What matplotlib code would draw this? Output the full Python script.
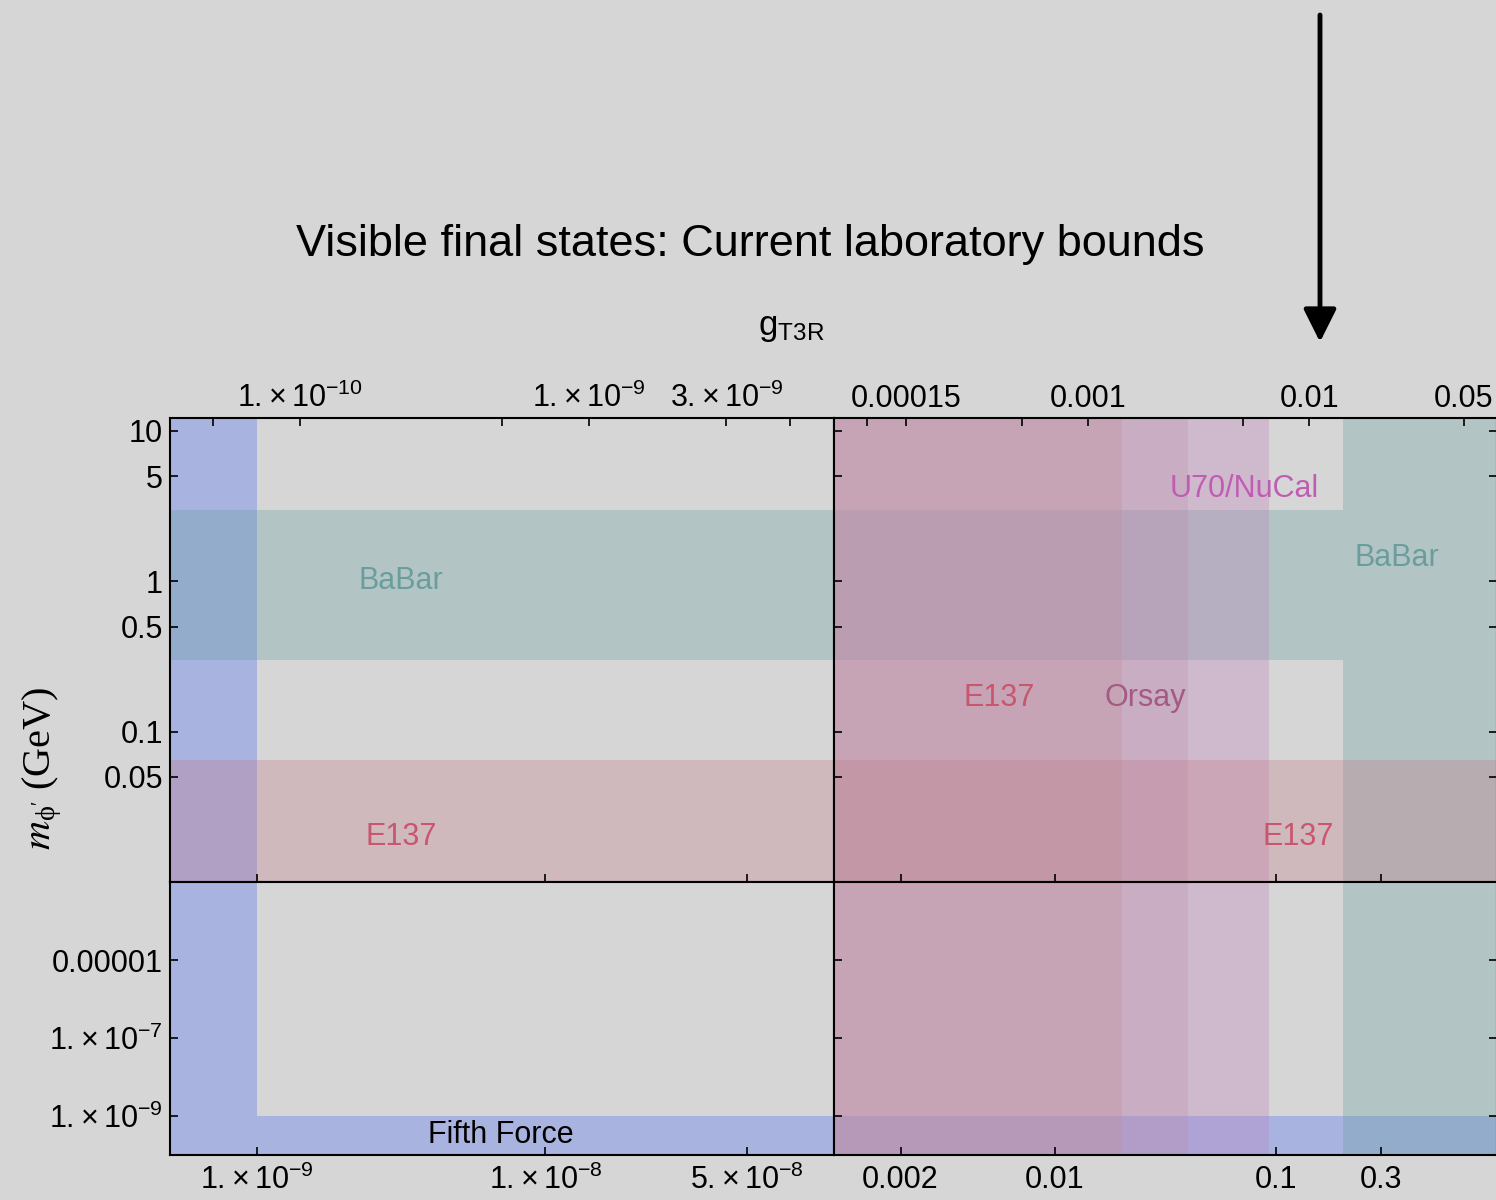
import matplotlib
matplotlib.use('Agg')
import matplotlib.pyplot as plt
from matplotlib.patches import Polygon, FancyArrowPatch
from matplotlib.ticker import FixedLocator, NullFormatter, FixedFormatter

plt.rcParams['font.family'] = ['Liberation Sans', 'DejaVu Sans']
plt.rcParams['mathtext.default'] = 'regular'

W, H = 1496, 1200
BG = '#d6d6d6'
FS = 22

# broken axis segments: coupling g (bottom axis) and mass m_phi (GeV)
g_left = (5e-10, 1e-7)
g_right = (1e-3, 1.0)
m_top = (1e-2, 12.2)
m_bottom = (1e-10, 1e-3)
top_factor = 0.0708  # top axis coupling = bottom coupling * factor

# excluded regions in (g, m); LO/HI just reach past every panel
LO, HI = 1e-14, 1e3
fifth_force = [(LO, LO), (HI, LO), (HI, 1e-9), (1e-9, 1e-9), (1e-9, HI), (LO, HI)]
babar = [(LO, 0.3), (0.2, 0.3), (0.2, LO), (HI, LO), (HI, HI), (0.2, HI), (0.2, 3.0), (LO, 3.0)]
u70_nucal = [(1e-5, LO), (0.093, LO), (0.093, HI), (1e-5, HI)]
orsay = [(1e-5, LO), (0.04, LO), (0.04, HI), (1e-5, HI)]
e137_g = [(1e-5, LO), (0.02, LO), (0.02, HI), (1e-5, HI)]
e137_m = [(LO, 0.005), (HI, 0.005), (HI, 0.065), (LO, 0.065)]

regions = [fifth_force, babar, u70_nucal, orsay, e137_g, e137_m]
region_colors = ['#4365f7', '#659d9d', '#bf7cbb', '#bb90ad', '#c29099', '#c27986']
ALPHA = 0.3

# region labels
label_text = ['BaBar', 'E137', 'Fifth Force', 'U70/NuCal', 'BaBar', 'E137', 'Orsay', 'E137']
label_g = [3.16e-9, 3.16e-9, 7.0e-9, 0.0716, 0.353, 0.0056, 0.0255, 0.126]
label_m = [1.0, 0.02, 3.3e-10, 4.1, 1.42, 0.168, 0.168, 0.02]
label_color = ['#6a9e9e', '#c8566e', 'black', '#c05cb4', '#6a9e9e', '#c8566e', '#a45a82', '#c8566e']
label_panel = ['tl', 'tl', 'bl', 'tr', 'tr', 'tr', 'tr', 'tr']


def sci(mant, exp):
    return r'$%d.{\times}\,10^{%d}$' % (mant, exp)


# ticks
bl_ticks, bl_labels = [1e-9, 1e-8, 5e-8], [sci(1, -9), sci(1, -8), sci(5, -8)]
br_ticks, br_labels = [0.002, 0.01, 0.1, 0.3], ['0.002', '0.01', '0.1', '0.3']
tl_ticks, tl_labels = [1e-10, 1e-9, 3e-9], [sci(1, -10), sci(1, -9), sci(3, -9)]
tl_minor = [5e-11, 5e-10, 5e-9]
tr_ticks, tr_labels = [1.5e-4, 1e-3, 1e-2, 5e-2], ['0.00015', '0.001', '0.01', '0.05']
tr_minor = [1e-4, 5e-4, 5e-3]
mt_ticks, mt_labels = [10, 5, 1, 0.5, 0.1, 0.05], ['10', '5', '1', '0.5', '0.1', '0.05']
mb_ticks, mb_labels = [1e-5, 1e-7, 1e-9], ['0.00001', sci(1, -7), sci(1, -9)]

fig = plt.figure(figsize=(W / 100, H / 100), dpi=100, facecolor=BG)

x0, xm, x1 = 170, 834, 1497
y0, ym, y1 = 418, 882, 1155


def add_ax(xa, xb, ya, yb):
    return fig.add_axes([xa / W, 1 - yb / H, (xb - xa) / W, (yb - ya) / H])


axes = {
    'tl': add_ax(x0, xm, y0, ym),
    'tr': add_ax(xm, x1, y0, ym),
    'bl': add_ax(x0, xm, ym, y1),
    'br': add_ax(xm, x1, ym, y1),
}
xlims = {'tl': g_left, 'bl': g_left, 'tr': g_right, 'br': g_right}
ylims = {'tl': m_top, 'tr': m_top, 'bl': m_bottom, 'br': m_bottom}
xticks = {'tl': bl_ticks, 'bl': bl_ticks, 'tr': br_ticks, 'br': br_ticks}
xlabels = {'bl': bl_labels, 'br': br_labels}

tick_kw = dict(direction='in', length=6, width=1.2, color='black', labelsize=FS)

for key, ax in axes.items():
    ax.set_facecolor(BG)
    ax.set_xscale('log')
    ax.set_yscale('log')
    ax.set_xlim(*xlims[key])
    ax.set_ylim(*ylims[key])
    for sp in ax.spines.values():
        sp.set_linewidth(1.5)
        sp.set_zorder(5)

    for verts, col in zip(regions, region_colors):
        ax.add_patch(Polygon(verts, closed=True, facecolor=col, edgecolor='none',
                             alpha=ALPHA, zorder=1))

    ax.xaxis.set_major_locator(FixedLocator(xticks[key]))
    ax.xaxis.set_minor_locator(FixedLocator([]))
    ax.yaxis.set_minor_locator(FixedLocator([]))
    top = key[0] == 't'
    left = key[1] == 'l'
    yt, yl = (mt_ticks, mt_labels) if top else (mb_ticks, mb_labels)
    ax.yaxis.set_major_locator(FixedLocator(yt))
    if left:
        ax.yaxis.set_major_formatter(FixedFormatter(yl))
        ax.tick_params(axis='y', left=True, right=False, labelleft=True, pad=5, **tick_kw)
    else:
        ax.tick_params(axis='y', left=True, right=True, labelleft=False, pad=5, **tick_kw)
    if top:
        ax.tick_params(axis='x', bottom=True, top=False, labelbottom=False, **tick_kw)
    else:
        ax.xaxis.set_major_formatter(FixedFormatter(xlabels[key]))
        ax.tick_params(axis='x', bottom=True, top=False, labelbottom=True, pad=7, **tick_kw)

    if top:
        axt = ax.twiny()
        axt.set_xscale('log')
        lo, hi = xlims[key]
        axt.set_xlim(lo * top_factor, hi * top_factor)
        tk, tlab, tmin = (tl_ticks, tl_labels, tl_minor) if left else (tr_ticks, tr_labels, tr_minor)
        axt.xaxis.set_major_locator(FixedLocator(tk))
        axt.xaxis.set_major_formatter(FixedFormatter(tlab))
        axt.xaxis.set_minor_locator(FixedLocator(tmin))
        axt.xaxis.set_minor_formatter(NullFormatter())
        axt.tick_params(axis='x', which='both', pad=3, **tick_kw)
        for sp in axt.spines.values():
            sp.set_visible(False)

for txt, g, m, col, pan in zip(label_text, label_g, label_m, label_color, label_panel):
    axes[pan].text(g, m, txt, color=col, fontsize=FS, ha='center', va='center', zorder=4)

fig.text(750 / W, 1 - 245 / H, 'Visible final states: Current laboratory bounds',
         fontsize=32.5, ha='center', va='center')
fig.text(791 / W, 1 - 327 / H, r'$g_{T3R}$', fontsize=25, ha='center', va='center')
fig.text(42 / W, 1 - 768 / H, r"$\mathit{m}_{\phi'}$ (GeV)", fontsize=29, rotation=90,
         ha='center', va='center', family='Liberation Serif', math_fontfamily='stix')

# pointer arrow above the top axis
arrow_x, arrow_top, arrow_tip = 1320, 15, 342
fig.add_artist(FancyArrowPatch(
    (arrow_x / W, 1 - arrow_top / H), (arrow_x / W, 1 - arrow_tip / H),
    transform=fig.transFigure, arrowstyle='-|>,head_length=1.0,head_width=0.5',
    mutation_scale=20, lw=3.5, color='black', shrinkA=0, shrinkB=0))

fig.savefig('out.png', dpi=100, facecolor=BG)
